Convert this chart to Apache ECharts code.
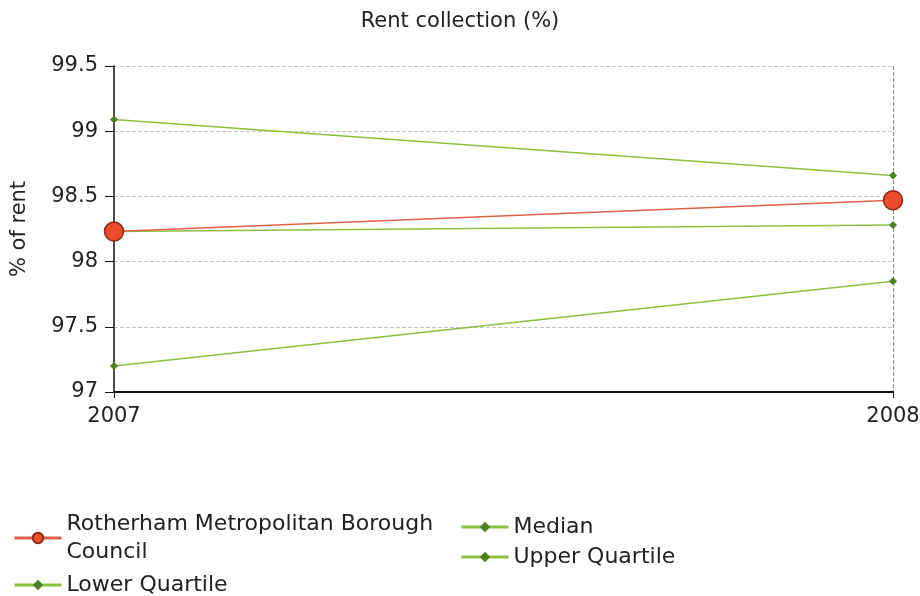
<!DOCTYPE html>
<html>
<head>
<meta charset="utf-8">
<script src="https://cdn.jsdelivr.net/npm/echarts@6/dist/echarts.min.js"></script>
<style>
  html, body { margin: 0; padding: 0; background: #fff; }
  #chart { width: 920px; height: 596px; }
</style>
</head>
<body>
<div id="chart"></div>
<script>
// data
const years = ['2007', '2008']
const rotherham = [98.23, 98.47]
const median = [98.23, 98.28]
const lowerQuartile = [97.2, 97.85]
const upperQuartile = [99.09, 98.66]

const FONT = 'DejaVu Sans, Verdana, sans-serif'
const GREEN = '#8cbf3f'
const GREEN_DOT = '#4f7f25'

const chart = echarts.init(document.getElementById('chart'))

// one legend per item so the two-column layout matches
function legendAt(name, left, top) {
	return {
		data: [name],
		left: left,
		top: top,
		orient: 'vertical',
		itemWidth: 47,
		itemHeight: 13,
		itemGap: 0,
		lineStyle: { width: 3 },
		textStyle: { fontFamily: FONT, fontSize: 22, color: '#222', lineHeight: 28 },
		formatter: n => n === 'Rotherham Metropolitan Borough Council' ? 'Rotherham Metropolitan Borough\nCouncil' : n
	}
}

function greenSeries(name, data) {
	return {
		name: name,
		type: 'line',
		data: data,
		symbol: 'diamond',
		symbolSize: 7,
		lineStyle: { color: GREEN, width: 1.5 },
		itemStyle: { color: GREEN_DOT, borderColor: GREEN_DOT },
		color: GREEN,
		z: 3
	}
}

const option = {
	animation: false,
	backgroundColor: '#fff',
	title: {
		text: 'Rent collection (%)',
		left: 'center',
		top: 6,
		textStyle: { fontFamily: FONT, fontSize: 21, fontWeight: 'normal', color: '#222' }
	},
	legend: [
		legendAt('Rotherham Metropolitan Borough Council', 8, 505),
		legendAt('Lower Quartile', 8, 566),
		legendAt('Median', 455, 508),
		legendAt('Upper Quartile', 455, 538)
	],
	grid: { left: 114, right: 27, top: 66, bottom: 204, outerBoundsMode: 'none' },
	xAxis: {
		type: 'category',
		data: years,
		boundaryGap: false,
		axisLine: { lineStyle: { color: '#111', width: 2 } },
		axisTick: { show: true, length: 6, lineStyle: { color: '#111' } },
		axisLabel: { fontFamily: FONT, fontSize: 21, color: '#222', margin: 14 },
		splitLine: { show: true, interval: i => i === 1, lineStyle: { color: '#888', type: 'dashed' } }
	},
	yAxis: {
		type: 'value',
		min: 97,
		max: 99.5,
		interval: 0.5,
		name: '% of rent',
		nameLocation: 'middle',
		nameGap: 84,
		nameTextStyle: { fontFamily: FONT, fontSize: 21, color: '#222' },
		axisLine: { show: true, lineStyle: { color: '#111', width: 1.5 } },
		axisTick: { show: true, length: 9, lineStyle: { color: '#111' } },
		axisLabel: { fontFamily: FONT, fontSize: 21, color: '#222', margin: 16 },
		splitLine: { show: true, lineStyle: { color: '#c8c8c8', type: 'dashed' } }
	},
	series: [
		greenSeries('Median', median),
		greenSeries('Lower Quartile', lowerQuartile),
		greenSeries('Upper Quartile', upperQuartile),
		{
			name: 'Rotherham Metropolitan Borough Council',
			type: 'line',
			data: rotherham,
			symbol: 'circle',
			symbolSize: 19,
			lineStyle: { color: '#e0604a', width: 1.5 },
			itemStyle: { color: '#ec4a2c', borderColor: '#8a2a1a', borderWidth: 1.5 },
			color: '#e0604a',
			z: 4
		}
	]
}

chart.setOption(option)
</script>
</body>
</html>
